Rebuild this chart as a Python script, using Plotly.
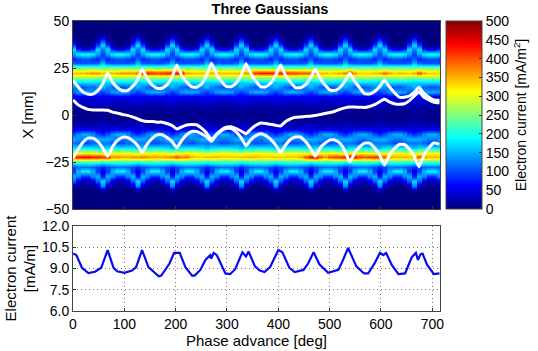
import plotly.graph_objects as go

FONT = "Liberation Sans"

# heatmap rows [mm], top to bottom
x_rows = [50, 47.5, 45, 42.5, 40, 37.5, 35, 32.5, 30, 27.5, 25, 22.5, 20, 17.5, 15, 12.5, 10, 7.5, 5, 2.5, 0,
          -2.5, -5, -7.5, -10, -12.5, -15, -17.5, -20, -22.5, -25, -27.5, -30, -32.5, -35, -37.5, -40, -42.5, -45, -47.5, -50]

# column shapes: crest, near crest, mid, trough
crest = [0, 0, 0, 20, 90, 170, 125, 95, 110, 150, 240, 340, 255, 165, 150, 90, 60, 40, 25, 15, 10,
         15, 30, 45, 80, 150, 120, 155, 290, 340, 195, 85, 50, 70, 170, 130, 25, 0, 0, 0, 0]
near = [0, 0, 0, 8, 30, 90, 170, 140, 80, 110, 245, 340, 265, 170, 130, 110, 60, 40, 25, 12, 8,
        12, 25, 45, 100, 150, 120, 175, 300, 340, 205, 100, 90, 150, 110, 30, 5, 0, 0, 0, 0]
mid = [0, 0, 0, 0, 2, 15, 80, 180, 90, 100, 250, 340, 270, 175, 110, 140, 60, 35, 22, 10, 6,
       10, 22, 50, 130, 135, 110, 180, 305, 340, 210, 110, 150, 130, 50, 12, 0, 0, 0, 0, 0]
trough = [0, 0, 0, 0, 0, 5, 50, 195, 100, 100, 250, 340, 270, 175, 100, 150, 60, 35, 20, 10, 5,
          10, 20, 50, 150, 120, 100, 185, 310, 340, 210, 115, 185, 90, 25, 5, 0, 0, 0, 0, 0]
shapes = {"C": crest, "N": near, "M": mid, "T": trough}

# one letter per column
col_shape = "NMTTMNC" * 10 + "NMTTM"

# phase of each column [deg]
phase = [0, 9.6, 19.3, 28.9, 38.5, 48.2, 57.8, 67.4, 77, 86.7, 96.3, 105.9, 115.6, 125.2, 134.8,
         144.5, 154.1, 163.7, 173.3, 183, 192.6, 202.2, 211.9, 221.5, 231.1, 240.8, 250.4, 260, 269.6, 279.3,
         288.9, 298.5, 308.2, 317.8, 327.4, 337.1, 346.7, 356.3, 365.9, 375.6, 385.2, 394.8, 404.5, 414.1, 423.7,
         433.4, 443, 452.6, 462.2, 471.9, 481.5, 491.1, 500.8, 510.4, 520, 529.7, 539.3, 548.9, 558.5, 568.2,
         577.8, 587.4, 597.1, 606.7, 616.3, 626, 635.6, 645.2, 654.8, 664.5, 674.1, 683.7, 693.4, 703, 714]

# central band peak per column, upper and lower [mA/m^2]
upper_peak = [350, 350, 350, 360, 370, 370, 350, 350, 350, 360, 370, 370, 370, 380, 430, 430, 420, 410, 420, 430,
              430, 440, 430, 360, 350, 350, 350, 340, 360, 360, 350, 350, 350, 350, 360, 370, 400, 420, 430, 430,
              430, 420, 430, 420, 410, 410, 400, 400, 400, 380, 350, 350, 340, 350, 360, 380, 440, 370, 340, 340,
              340, 350, 360, 390, 360, 340, 350, 350, 340, 360, 400, 360, 340, 340, 340]
lower_peak = [420, 430, 440, 440, 430, 430, 420, 420, 370, 370, 360, 360, 370, 370, 380, 370, 360, 360, 360, 370,
              380, 400, 380, 380, 350, 340, 340, 350, 350, 350, 340, 340, 340, 340, 350, 350, 350, 350, 340, 340,
              340, 350, 340, 340, 340, 340, 360, 400, 440, 440, 400, 370, 400, 410, 420, 430, 470, 430, 410, 400,
              410, 420, 420, 400, 360, 350, 350, 350, 350, 360, 400, 370, 350, 350, 350]

# white lines [mm], one value per phase
line_upper = [18.6, 15, 12.3, 11.1, 11.1, 13, 16.5, 22.3, 17.5, 14.5, 13, 13, 15, 18.5, 24.4, 19.5, 16, 14.2, 14.2, 16,
              20, 26.6, 21, 17.5, 15, 14.8, 16.5, 21, 27.5, 22, 18, 15.2, 15, 17, 21, 27.3, 22, 18, 15, 15,
              17, 21, 26.6, 21, 17.5, 14.6, 14.5, 16, 19.5, 24.4, 19.5, 16, 13.2, 13, 14.5, 18, 22.3, 18, 14.5, 11.3,
              11.2, 12.5, 15, 18.6, 15, 12, 9.5, 9.4, 10, 12, 14.7, 11.5, 9.5, 8, 7.8]
line_middle = [8, 5.5, 4, 3, 2.7, 2.7, 2.7, 2.5, 1.5, 1, 0.3, -0.2, -1, -2, -3, -3.5, -3.5, -3.8, -3.8, -4.5,
               -5.5, -7.5, -6.3, -5.3, -5, -5.2, -7, -9.5, -13, -10.5, -8, -6.5, -6.3, -7.3, -8.5, -10, -7.5, -5.5, -4.3, -4.5,
               -5, -5.5, -5.8, -3.5, -2, -1.2, -1, -0.8, -0.6, -0.3, 0.3, 0.8, 1.3, 2, 3, 3.8, 4.2, 4.2, 4.1, 4,
               4.5, 5.5, 7, 8.5, 7, 6, 5.7, 6, 7.5, 10, 12.4, 9.5, 8, 6.8, 6.5]
line_lower = [-23, -18.5, -14.5, -12.3, -12.3, -14, -17.5, -22, -17, -13.5, -11.9, -11.9, -13.5, -16, -20, -15.5, -12.5, -10.6, -10.5, -12,
              -14, -17.4, -13.5, -10.5, -8.8, -8.8, -10, -11.5, -14, -10.5, -8.3, -7.2, -7.2, -9, -12, -16.4, -13, -11, -10, -11,
              -13, -16, -20, -16, -13, -11.7, -11.7, -14, -17.5, -22, -17.5, -15, -13.2, -13.2, -15, -19, -25, -20, -17, -15,
              -15, -17.5, -21, -26.6, -21.5, -18, -15.7, -15.7, -18, -22, -27.5, -21.5, -17.5, -14.9, -15.5]

# lower panel
cur_phase = [0, 6.5, 17.5, 30, 43, 55, 67.5, 79, 86, 100, 115, 123, 134.5, 147, 167, 172, 188, 197, 208, 219,
             232, 237, 248, 258, 267.5, 269.5, 274, 280, 297, 306, 316, 330, 337, 342, 354.5, 364, 373, 384, 400, 408,
             421.5, 432, 449, 458, 468.8, 480, 497, 517, 526, 536, 552, 567, 575, 588, 598, 604.5, 610, 621, 634, 647,
             660, 668, 672, 677, 681, 690, 703, 714]
cur_val = [10.05, 9.95, 9.05, 8.67, 8.77, 9.05, 10.3, 9.05, 8.8, 8.7, 8.85, 9.1, 10.3, 9.1, 8.45, 8.5, 9.35, 10.1, 10.1, 9.1,
           8.5, 8.5, 8.9, 9.6, 9.95, 9.7, 10.1, 9.95, 8.65, 8.6, 8.95, 10.15, 9.85, 10.2, 9.15, 8.85, 8.75, 9.1, 10.3, 10.15,
           9.05, 8.75, 8.9, 9.35, 10.15, 9.3, 8.7, 8.9, 9.6, 10.45, 9.15, 8.65, 8.65, 9.4, 10.1, 9.95, 10.1, 9.25, 8.6, 8.65,
           9.8, 10.1, 9.6, 10, 10.05, 9.25, 8.6, 8.65]

# assemble the cell table from the columns
columns = [list(shapes[s]) for s in col_shape]
for i, col in enumerate(columns):
    col[x_rows.index(22.5)] = upper_peak[i]
    col[x_rows.index(-22.5)] = lower_peak[i]

# each column drawn twice so the phase direction stays blocky while X is smoothed
cell_x = []
for p in phase:
    cell_x += [p - 3.2, p + 3.2]
rows = [[v for col in columns for v in (col[r], col[r])] for r in range(len(x_rows))]

jet = [[0, "#00007f"], [0.125, "#0000ff"], [0.375, "#00ffff"], [0.625, "#ffff00"], [0.875, "#ff0000"], [1, "#7f0000"]]

fig = go.Figure()

fig.add_trace(
    go.Heatmap(
        x=cell_x,
        y=x_rows,
        z=rows,
        zmin=0,
        zmax=500,
        zsmooth="best",
        colorscale=jet,
        colorbar=dict(
            x=446 / 538,
            xanchor="left",
            xref="paper",
            y=1 - 209 / 351,
            yanchor="bottom",
            yref="paper",
            len=188 / 351,
            thickness=36,
            xpad=0,
            ypad=0,
            outlinecolor="#444",
            outlinewidth=1,
            tickvals=list(range(0, 501, 50)),
            ticks="inside",
            ticklen=3,
            tickcolor="#333",
            tickfont=dict(size=14, color="black"),
            title=dict(text="Electron current [mA/m<sup>2</sup>]", side="right", font=dict(size=14, color="black")),
        ),
        xaxis="x",
        yaxis="y",
    )
)

for line in [line_upper, line_middle, line_lower]:
    fig.add_trace(
        go.Scatter(x=phase, y=line, mode="lines", line=dict(color="white", width=3, shape="spline", smoothing=0.35), showlegend=False, xaxis="x", yaxis="y")
    )

fig.add_trace(
    go.Scatter(x=cur_phase, y=cur_val, mode="lines", line=dict(color="#0a0af0", width=2.2), showlegend=False, xaxis="x2", yaxis="y2")
)

axis_style = dict(showline=True, linecolor="#444", linewidth=1, mirror=True, ticks="inside", ticklen=3, tickcolor="#333",
                  tickfont=dict(size=14, color="black"), zeroline=False)

fig.update_layout(
    width=538,
    height=351,
    margin=dict(l=0, r=0, t=0, b=0, autoexpand=False),
    paper_bgcolor="white",
    plot_bgcolor="white",
    font=dict(family=FONT, color="black"),
    title=dict(text="<b>Three Gaussians</b>", x=270 / 538, xanchor="center", y=1 - 9 / 351, yanchor="middle", font=dict(size=14.5, color="black")),
    xaxis=dict(domain=[73 / 538, 440 / 538], range=[0, 715], tickvals=list(range(0, 701, 100)), showticklabels=False, showgrid=False, anchor="y", **axis_style),
    yaxis=dict(domain=[1 - 209 / 351, 1 - 21 / 351], range=[-50, 50], tickvals=[-50, -25, 0, 25, 50], showgrid=False, anchor="x",
               title=dict(text="X [mm]", font=dict(size=15), standoff=8), **axis_style),
    xaxis2=dict(domain=[73 / 538, 440 / 538], range=[0, 715], tickvals=list(range(0, 701, 100)), showgrid=True, griddash="1px,3px", gridcolor="#777", anchor="y2",
                title=dict(text="Phase advance [deg]", font=dict(size=15), standoff=4), **axis_style),
    yaxis2=dict(domain=[1 - 311 / 351, 1 - 226 / 351], range=[6, 12], tickvals=[6, 7.5, 9, 10.5, 12], ticktext=["6.0", "7.5", "9.0", "10.5", "12.0"],
                showgrid=True, griddash="1px,3px", gridcolor="#777", anchor="x2",
                title=dict(text="Electron current<br>[mA/m]", font=dict(size=15), standoff=2), **axis_style),
)

# the page's default body margin would shift everything by 8 px
fig.write_html("out.html", config=dict(displayModeBar=False), post_script="document.body.style.margin='0'")
